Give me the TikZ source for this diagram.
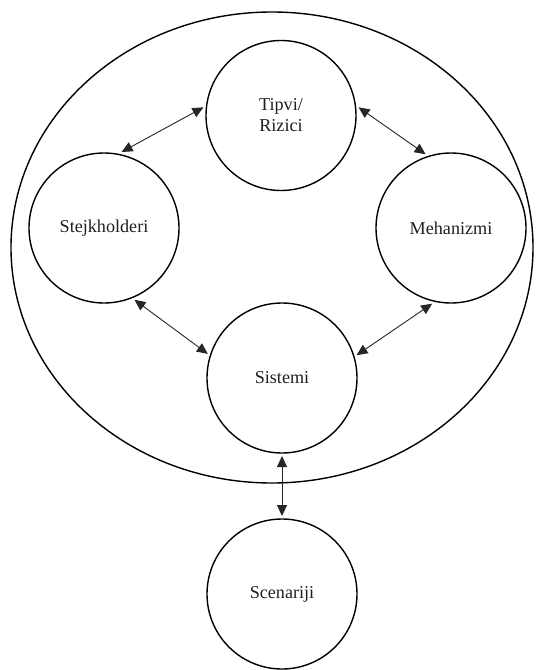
\documentclass[tikz,border=0pt]{standalone}
\usepackage{fontspec}
\setmainfont{Liberation Serif}
\usetikzlibrary{arrows.meta,shapes.geometric}
\begin{document}
\begin{tikzpicture}[x=1bp,y=-1bp,
  bubble/.style={circle,draw=black,line width=1.4bp,minimum size=150bp,inner sep=0pt,outer sep=3bp,
    font=\fontsize{18.2}{21}\selectfont,align=center,text=black!88},
  link/.style={draw=black!85,line width=0.9bp,{Triangle[length=11bp,width=10bp]}-{Triangle[length=11bp,width=10bp]}}]
\useasboundingbox (0,0) rectangle (536,670);
\node[draw=black,line width=1.4bp,ellipse,minimum width=522bp,minimum height=471bp,inner sep=0pt] (outer) at (272,247.5) {};
\node[bubble] (tip) at (281,115.5) {Tipvi/\\Rizici};
\node[bubble] (stk) at (104,228) {Stejkholderi};
\node[bubble] (meh) at (451,228) {Mehanizmi};
\node[bubble] (sis) at (282,378) {Sistemi};
\node[bubble] (sce) at (282,594) {Scenariji};
\draw[link] (tip.174) -- (stk.77);
\draw[link] (tip.6) -- (meh.109);
\draw[link] (stk.-67) -- (sis.162);
\draw[link] (sis.17) -- (meh.-104);
\draw[link] (sis.south) -- (sce.north);
\end{tikzpicture}
\end{document}
